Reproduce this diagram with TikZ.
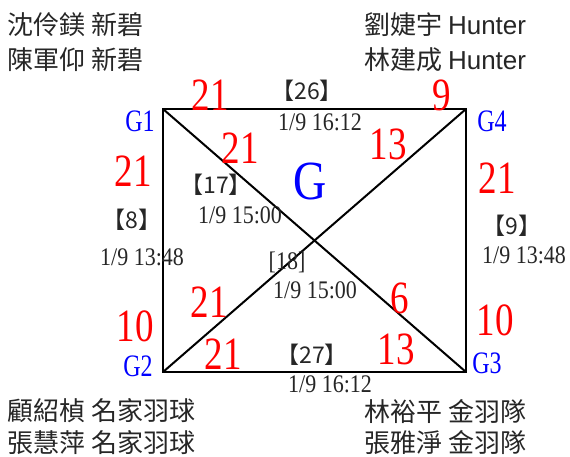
\documentclass[tikz,border=0pt]{standalone}
\usepackage{fontspec}
\usepackage{graphicx}
\setmainfont{Liberation Serif}
\newfontfamily\cjk{Noto Sans CJK TC}
\newfontfamily\arialf{Liberation Sans}
\newcommand{\vstr}[2]{\scalebox{1}[#1]{#2}}
\begin{document}
\begin{tikzpicture}[x=1pt,y=-1pt,
  score/.style={text=red, inner sep=0, font=\fontsize{37}{37}\selectfont},
  glabel/.style={text=blue, inner sep=0, font=\fontsize{24}{24}\selectfont},
  datel/.style={text=black!85, inner sep=0, font=\fontsize{22}{22}\selectfont},
  brk/.style={text=black!85, inner sep=0, font=\cjk\fontsize{23}{23}\selectfont},
  namel/.style={text=black!85, inner sep=0, anchor=west, font=\cjk\fontsize{26}{26}\selectfont},
  edge/.style={line width=2pt, black}]
\useasboundingbox (0,0) rectangle (570,457);
\coordinate (g1) at (163,109);
\coordinate (g4) at (466,109);
\coordinate (g2) at (163,372);
\coordinate (g3) at (466,372);
\draw[edge] (g1) -- (g4) -- (g3) -- (g2) -- cycle;
\draw[edge] (g1) -- (g3);
\draw[edge] (g2) -- (g4);
% names
\node[namel] (n1) at (7,25) {沈伶鎂 新碧};
\node[namel] (n2) at (7,60) {陳軍仰 新碧};
\node[namel] (n3) at (364,25) {劉婕宇 {\arialf Hunter}};
\node[namel] (n4) at (364,60) {林建成 {\arialf Hunter}};
\node[namel] (n5) at (7,411) {顧紹楨 名家羽球};
\node[namel] (n6) at (7,443) {張慧萍 名家羽球};
\node[namel] (n7) at (364,411) {林裕平 金羽隊};
\node[namel] (n8) at (364,443) {張雅淨 金羽隊};
% group labels
\node[glabel] (lg1) at (140,121) {\vstr{1.3}{G1}};
\node[glabel] (lg4) at (492,121) {\vstr{1.3}{G4}};
\node[glabel] (lg2) at (138,366) {\vstr{1.3}{G2}};
\node[glabel] (lg3) at (487,363) {\vstr{1.3}{G3}};
\node[text=blue, inner sep=0, font=\fontsize{46}{46}\selectfont] (gg) at (310,181) {\vstr{1.2}{G}};
% scores
\node[score] (s1) at (210,95) {\vstr{1.25}{21}};
\node[score] (s2) at (442,95) {\vstr{1.25}{9}};
\node[score] (s3) at (240,148) {\vstr{1.25}{21}};
\node[score] (s4) at (388,144) {\vstr{1.25}{13}};
\node[score] (s5) at (133,171) {\vstr{1.25}{21}};
\node[score] (s6) at (497,178) {\vstr{1.25}{21}};
\node[score] (s7) at (135,326) {\vstr{1.25}{10}};
\node[score] (s8) at (209,302) {\vstr{1.25}{21}};
\node[score] (s9) at (223,354) {\vstr{1.25}{21}};
\node[score] (s10) at (400,298) {\vstr{1.25}{6}};
\node[score] (s11) at (396,349) {\vstr{1.25}{13}};
\node[score] (s12) at (495,320) {\vstr{1.25}{10}};
% match labels
\node[brk] (m26) at (307,91) {【26】};
\node[datel] (d26) at (320,122) {\vstr{1.15}{1/9 16:12}};
\node[brk] (m17) at (216,185) {【17】};
\node[datel] (d17) at (240,215) {\vstr{1.15}{1/9 15:00}};
\node[brk] (m8) at (132,220) {【8】};
\node[datel] (d8) at (142,257) {\vstr{1.15}{1/9 13:48}};
\node[brk] (m9) at (512,226) {【9】};
\node[datel] (d9) at (524,255) {\vstr{1.15}{1/9 13:48}};
\node[datel] (m18) at (287,262) {\vstr{1.15}{[18]}};
\node[datel] (d18) at (315,290) {\vstr{1.15}{1/9 15:00}};
\node[brk] (m27) at (312,355) {【27】};
\node[datel] (d27) at (330,384) {\vstr{1.15}{1/9 16:12}};
\end{tikzpicture}
\end{document}
